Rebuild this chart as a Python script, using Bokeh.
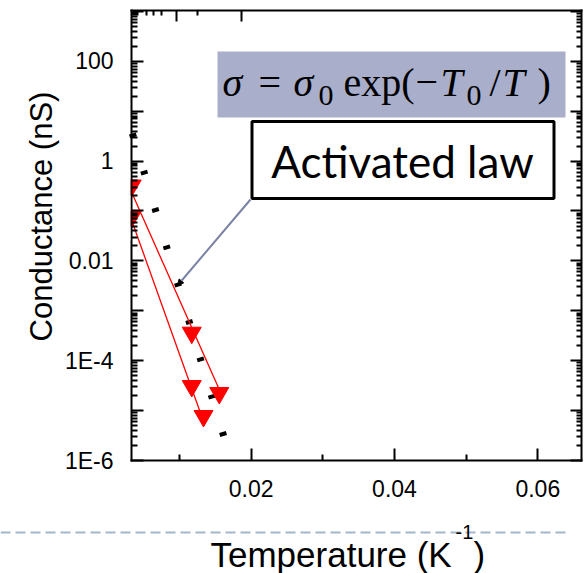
import math
from bokeh.plotting import figure
from bokeh.models import (Range1d, FixedTicker, LinearAxis, LogAxis, CustomJSTickFormatter,
                          BoxAnnotation, Label, Arrow, NormalHead)
from bokeh.embed import file_html
from bokeh.resources import INLINE

# ---------------- data ----------------
s1_x = [0.00333, 0.01171, 0.01555]
s1_y = [0.324, 3.64e-4, 2.25e-5]
s2_x = [0.00333, 0.01171, 0.01335]
s2_y = [0.0769, 3.11e-5, 7.8e-6]

fit1_x = [0.00333, 0.01555]
fit1_y = [0.235, 2.65e-5]
fit2_x = [0.00333, 0.01335]
fit2_y = [0.0646, 6.05e-6]

act_x = [0.0033, 0.01618]
act_y = [4.10, 3.04e-6]

x_ticks = [0.02, 0.04, 0.06]
x_tick_labels = ["0.02", "0.04", "0.06"]
x_minor = [0.01, 0.03, 0.05]
y_ticks = [1e-6, 1e-5, 1e-4, 1e-3, 1e-2, 1e-1, 1, 10, 100, 1000]
y_tick_labels = ["1E-6", "", "1E-4", "", "0.01", "", "1", "", "100", ""]
top_major = [0.00954, 0.01866]
top_minor = [0.0034, 0.0036, 0.0038, 0.0040, 0.0042, 0.0054, 0.00637, 0.00747, 0.01258]

# plot-box limits (axes drawn at these)
X0, X1 = 0.0033, 0.0661
Y0, Y1 = 1e-6, 10 ** 3.018

# plot-box geometry in canvas pixels; the frame covers the whole canvas
W, H = 588, 573
BL, BW, BT, BH = 131, 450, 10, 450
BB = BT + BH


def px2x(px):
    return X0 + (px - BL) / BW * (X1 - X0)


def px2y(py):
    l0, l1 = math.log10(Y0), math.log10(Y1)
    return 10 ** (l0 + (BB - py) / BH * (l1 - l0))


y_minor = [m * 10 ** k for k in range(-6, 3) for m in range(2, 10)]

p = figure(frame_width=W, frame_height=H, y_axis_type="log",
           x_range=Range1d(px2x(0), px2x(W)), y_range=Range1d(px2y(H), px2y(0)),
           x_axis_location=None, y_axis_location=None,
           toolbar_location=None, output_backend="svg", min_border=0)
p.xgrid.visible = False
p.ygrid.visible = False
p.outline_line_color = None
p.background_fill_color = "white"
p.border_fill_color = "white"

LAB_FONT = "Liberation Sans"


def fmt(ticks, labels, log=False):
    f = "Math.log10" if log else ""
    return CustomJSTickFormatter(args=dict(t=ticks, l=labels), code=f"""
let b = 0, bd = Infinity;
for (let i = 0; i < t.length; i++) {{ const d = Math.abs({f}(t[i]) - {f}(tick)); if (d < bd) {{ bd = d; b = i; }} }}
return l[b];""")


empty = CustomJSTickFormatter(code="return '';")

bottom = LinearAxis(fixed_location=Y0, bounds=(X0, X1),
                    ticker=FixedTicker(ticks=x_ticks, minor_ticks=x_minor),
                    formatter=fmt(x_ticks, x_tick_labels))
left = LogAxis(fixed_location=X0, bounds=(Y0, Y1),
               ticker=FixedTicker(ticks=y_ticks, minor_ticks=y_minor),
               formatter=fmt(y_ticks, y_tick_labels, log=True))
top = LinearAxis(fixed_location=Y1, bounds=(X0, X1),
                 ticker=FixedTicker(ticks=top_major, minor_ticks=top_minor), formatter=empty)
right = LogAxis(fixed_location=X1, bounds=(Y0, Y1),
                ticker=FixedTicker(ticks=y_ticks, minor_ticks=y_minor), formatter=empty)

for ax in (bottom, left, top, right):
    ax.axis_line_width = 2
    ax.axis_line_color = "black"
    ax.axis_line_cap = "square"
    ax.major_tick_out = 0
    ax.minor_tick_out = 0
    ax.major_tick_line_width = 2
    ax.minor_tick_line_width = 2
    ax.major_tick_line_color = "black"
    ax.minor_tick_line_color = "black"
for ax in (bottom, left):
    ax.major_tick_in = 12
    ax.minor_tick_in = 6
    ax.major_label_text_font = LAB_FONT
    ax.major_label_text_font_size = "23px"
    ax.major_label_text_color = "black"
for ax in (top, right):
    ax.major_tick_in = 11
    ax.minor_tick_in = 5
    ax.major_label_standoff = 0
    ax.major_label_text_font_size = "1px"
bottom.major_label_standoff = 19
left.major_label_standoff = 18

p.add_layout(bottom, "below")
p.add_layout(left, "left")
p.add_layout(top, "above")
p.add_layout(right, "right")

# activated-law thick dotted line
p.line(act_x, act_y, line_color="black", line_width=7, line_dash="4 35", line_dash_offset=36)

# red series
p.line(fit1_x, fit1_y, line_color="red", line_width=1.3)
p.line(fit2_x, fit2_y, line_color="red", line_width=1.3)
p.scatter(s1_x, s1_y, marker="inverted_triangle", size=19, fill_color="red", line_color="red")
p.scatter(s2_x, s2_y, marker="inverted_triangle", size=19, fill_color="red", line_color="red")

# the markers are clipped at the left edge of the plot box
p.add_layout(BoxAnnotation(left=px2x(112), right=px2x(129.9), top=px2y(170), bottom=px2y(240),
                           fill_color="white", fill_alpha=1, line_color=None))

# formula box
p.add_layout(BoxAnnotation(left=px2x(217), right=px2x(565), top=px2y(51), bottom=px2y(117),
                           fill_color="#A9AECA", fill_alpha=1, line_color=None))
SERIF = "Liberation Serif"
MID, SUB = 81.5, 95
FS, SS = "40px", "30px"
pieces = [
    ("\u03c3", 222, MID, FS, "italic"),
    ("=", 258, MID, FS, "normal"),
    ("\u03c3", 293, MID, FS, "italic"),
    ("0", 318, SUB, SS, "normal"),
    ("exp(", 343, MID, FS, "normal"),
    ("\u2212", 415, MID, FS, "normal"),
    ("T", 440, MID, FS, "italic"),
    ("0", 466, SUB, SS, "normal"),
    ("/", 489, MID, FS, "normal"),
    ("T", 502, MID, FS, "italic"),
    (")", 537, MID, FS, "normal"),
]
for txt, px, py, fs, st in pieces:
    p.add_layout(Label(x=px2x(px), y=px2y(py), text=txt, text_font=SERIF, text_font_size=fs,
                       text_font_style=st, text_color="black", text_baseline="middle",
                       text_align="left"))

# connector arrow
p.add_layout(Arrow(x_start=px2x(250), y_start=px2y(199), x_end=px2x(177), y_end=px2y(285),
                   line_color="#7B82A6", line_width=2,
                   end=NormalHead(size=6, fill_color="black", line_color="black")))

# "Activated law" box
p.add_layout(BoxAnnotation(left=px2x(251.5), right=px2x(553.5), top=px2y(121), bottom=px2y(198),
                           fill_color="white", fill_alpha=1, line_color="black", line_alpha=1,
                           line_width=3))
p.add_layout(Label(x=px2x(402), y=px2y(160), text="Activated law", text_font="Lato",
                   text_font_size="44px", text_color="black", text_align="center",
                   text_baseline="middle"))

# y-axis title
p.add_layout(Label(x=px2x(41), y=px2y(216), text="Conductance (nS)", text_font=LAB_FONT,
                   text_font_size="31px", text_color="black", angle=math.pi / 2,
                   text_align="center", text_baseline="middle"))

# separator (dashed) below the plot and the x-axis title
p.line([px2x(0), px2x(570)], [px2y(532), px2y(532)], line_color="#A3B8CC", line_width=2,
       line_dash="10 5")
p.add_layout(Label(x=px2x(210), y=px2y(554), text="Temperature (K", text_font=LAB_FONT,
                   text_font_size="35px", text_color="black", text_baseline="middle"))
p.add_layout(Label(x=px2x(455), y=px2y(531), text="-1", text_font=LAB_FONT,
                   text_font_size="20px", text_color="black", text_baseline="middle"))
p.add_layout(Label(x=px2x(473), y=px2y(554), text=")", text_font=LAB_FONT,
                   text_font_size="35px", text_color="black", text_baseline="middle"))

open("out.html", "w").write(file_html(p, INLINE))
